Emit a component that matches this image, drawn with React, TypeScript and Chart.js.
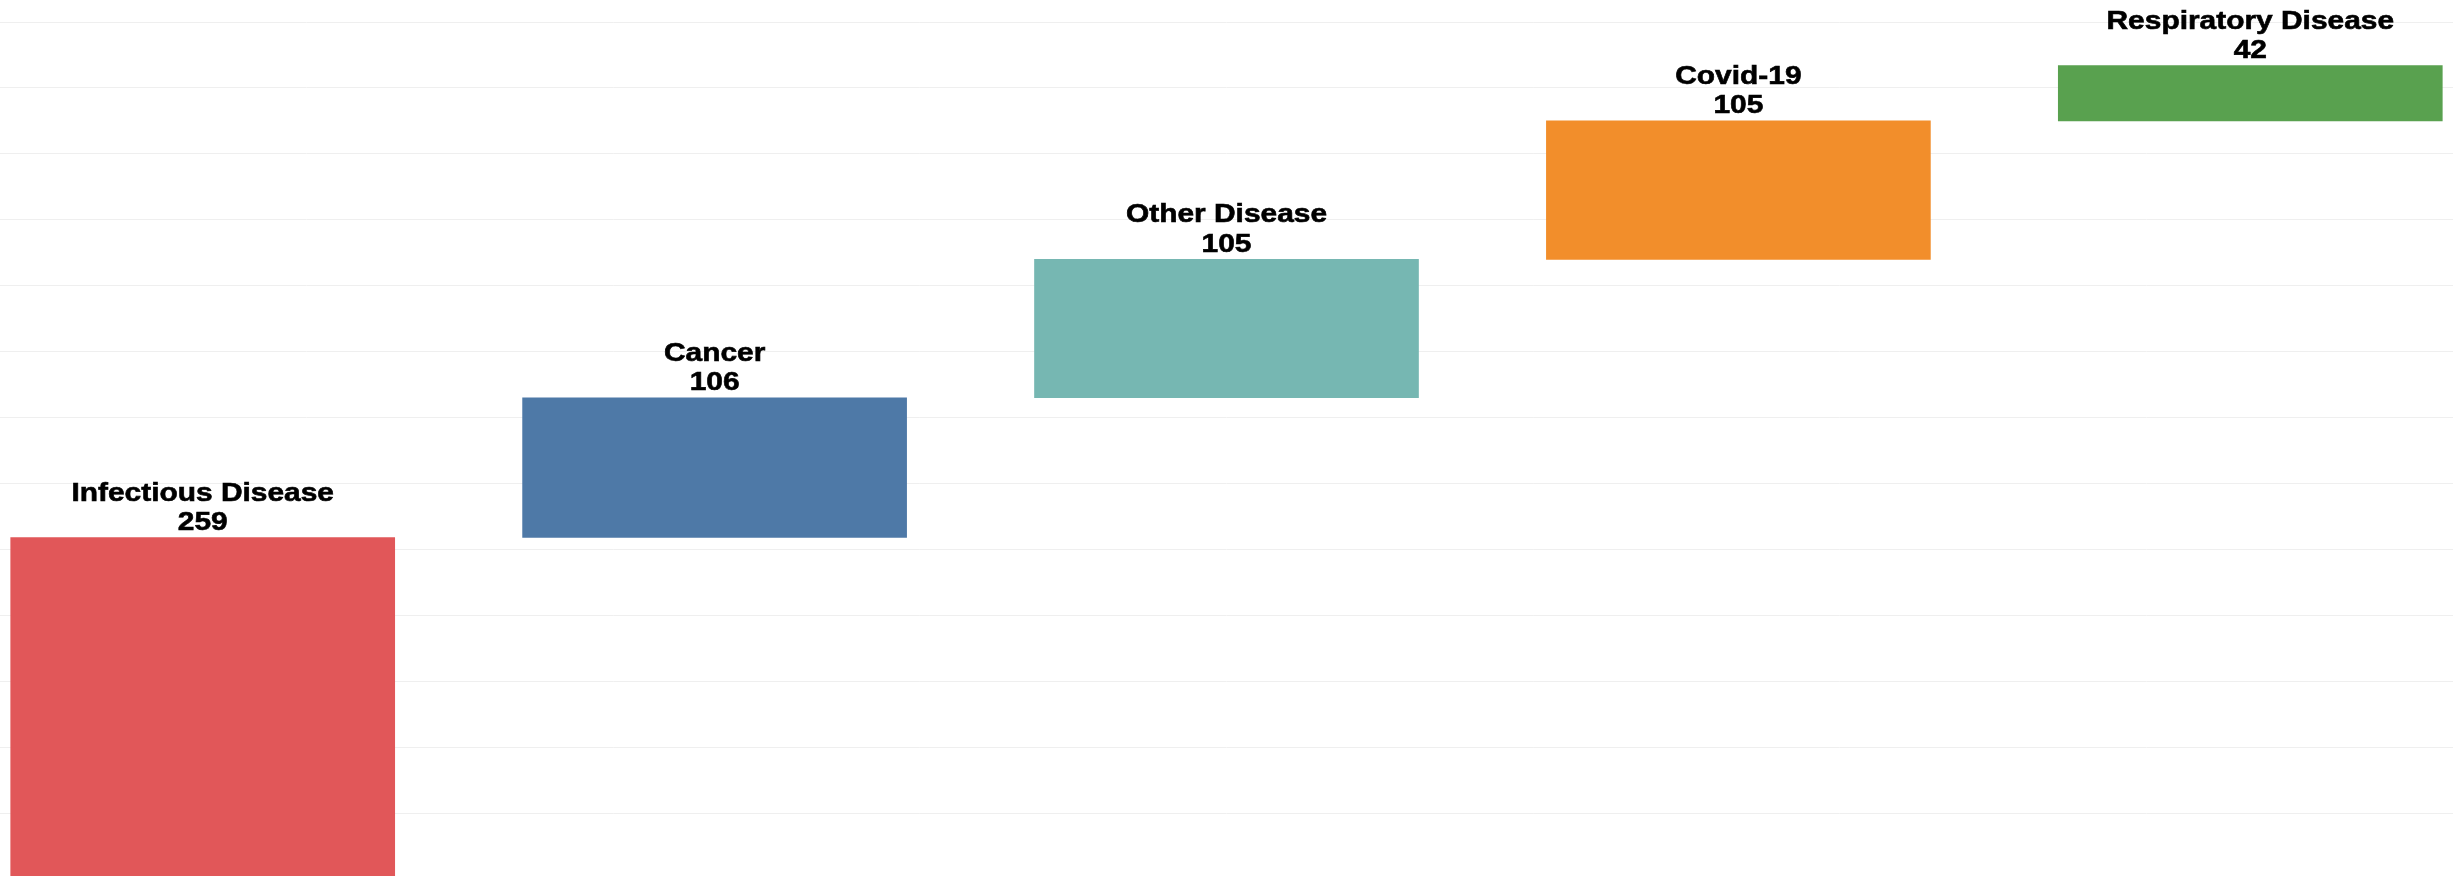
import React, { useEffect, useRef } from "react";
import { Chart, registerables } from "chart.js";

Chart.register(...registerables);

const categories = ["Infectious Disease", "Cancer", "Other Disease", "Covid-19", "Respiratory Disease"];
const values = [259, 106, 105, 105, 42];
const barColors = ["#E15759", "#4E79A7", "#76B7B2", "#F28E2B", "#59A14F"];
const gridValues = [50, 100, 150, 200, 250, 300, 350, 400, 450, 500, 550, 600, 650];

const W = 2453;
const H = 876;

export default function App() {
  const ref = useRef<HTMLCanvasElement | null>(null);

  useEffect(() => {
    document.body.style.margin = "0";
    const canvas = ref.current;
    if (!canvas) return;

    let running = 0;
    const floating = values.map((v, i) => {
      const start = running;
      running += v;
      return { x: i, y: [start, running] };
    });

    const labelPlugin = {
      id: "waterfallLabels",
      afterDatasetsDraw(chart: any) {
        const ctx = chart.ctx;
        const meta = chart.getDatasetMeta(0);
        ctx.save();
        ctx.fillStyle = "#000000";
        ctx.strokeStyle = "#000000";
        ctx.lineWidth = 0.6;
        ctx.textAlign = "center";
        ctx.textBaseline = "alphabetic";
        ctx.font = "bold 26px 'Liberation Sans', Arial, sans-serif";
        const sx = 1.15;
        const draw = (text: string, x: number, y: number) => {
          ctx.save();
          ctx.translate(x, y);
          ctx.scale(sx, 1);
          ctx.fillText(text, 0, 0);
          ctx.strokeText(text, 0, 0);
          ctx.restore();
        };
        meta.data.forEach((el: any, i: number) => {
          const top = Math.min(el.y, el.base);
          const numY = top - 7.5;
          const titleY = numY - 29.5;
          draw(categories[i], el.x, titleY);
          draw(String(values[i]), el.x, numY);
        });
        ctx.restore();
      },
    };

    const chart = new Chart(canvas, {
      type: "bar",
      data: {
        labels: categories,
        datasets: [
          {
            data: floating as any,
            backgroundColor: barColors,
            borderWidth: 0,
            barThickness: 384,
          },
        ],
      },
      options: {
        responsive: false,
        animation: false,
        devicePixelRatio: 1,
        layout: { padding: 0 },
        plugins: {
          legend: { display: false },
          tooltip: { enabled: false },
          title: { display: false },
        },
        scales: {
          x: {
            type: "linear",
            display: false,
            min: -0.396,
            max: 4.396,
            offset: false,
          },
          y: {
            type: "linear",
            display: true,
            min: 2.28,
            max: 666.7,
            border: { display: false },
            ticks: { display: false },
            grid: { color: "#efefef", lineWidth: 1, drawTicks: false },
            afterBuildTicks: (scale: any) => {
              scale.ticks = gridValues.map((v) => ({ value: v }));
            },
          },
        },
      },
      plugins: [labelPlugin],
    });

    return () => chart.destroy();
  }, []);

  return (
    <div style={{ position: "absolute", left: 0, top: 0, width: W, height: H, background: "#ffffff" }}>
      <canvas ref={ref} width={W} height={H} style={{ display: "block", width: W, height: H }} />
    </div>
  );
}
